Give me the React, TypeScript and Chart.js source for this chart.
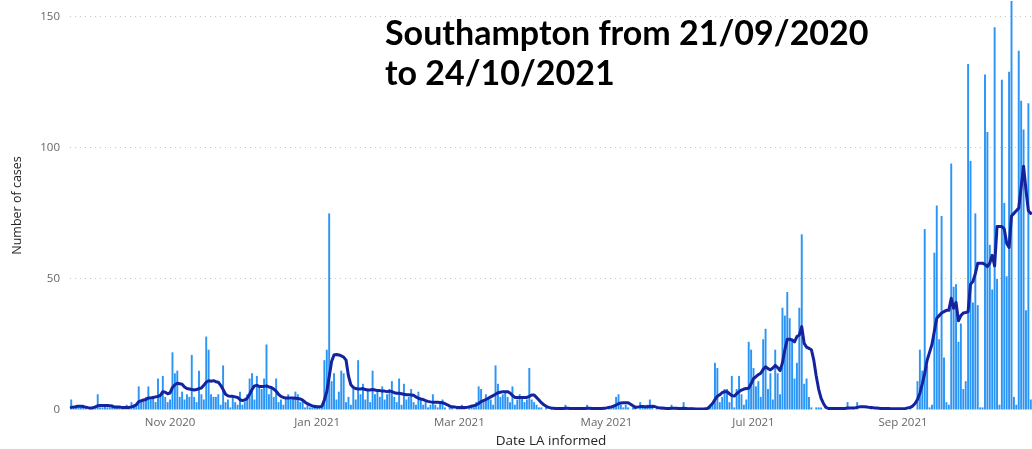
import React, { useEffect, useRef } from "react";
import { Chart, registerables } from "chart.js";

Chart.register(...registerables);

// Daily cases, 21/09/2020 .. 24/10/2021
const cases: number[] = [
  4, 1, 1, 1, 1, 2, 1, 0, 1, 1,
  1, 6, 1, 1, 2, 1, 1, 2, 1, 1,
  1, 1, 1, 2, 1, 3, 2, 2, 9, 4,
  4, 5, 9, 4, 5, 3, 12, 6, 13, 5,
  3, 4, 22, 14, 15, 5, 7, 4, 6, 5,
  21, 5, 3, 15, 6, 4, 28, 23, 6, 5,
  5, 6, 2, 17, 3, 4, 1, 5, 3, 2,
  7, 2, 3, 6, 12, 14, 4, 13, 9, 8,
  12, 25, 6, 8, 5, 12, 3, 4, 2, 5,
  6, 4, 5, 7, 6, 3, 4, 1, 2, 1,
  1, 2, 1, 1, 1, 19, 23, 75, 11, 14,
  4, 7, 15, 14, 3, 5, 2, 8, 4, 19,
  6, 10, 4, 8, 3, 15, 6, 7, 5, 9,
  4, 6, 8, 11, 5, 3, 12, 2, 10, 4,
  5, 8, 3, 2, 7, 4, 2, 3, 1, 2,
  6, 2, 1, 3, 4, 1, 0, 1, 1, 0,
  1, 1, 2, 1, 0, 1, 2, 1, 3, 9,
  8, 3, 6, 5, 4, 2, 17, 10, 5, 6,
  7, 5, 3, 9, 2, 4, 6, 5, 3, 4,
  16, 4, 3, 2, 1, 1, 0, 1, 0, 1,
  0, 1, 0, 0, 1, 2, 0, 1, 0, 0,
  1, 0, 0, 1, 2, 0, 1, 0, 0, 1,
  0, 1, 0, 1, 1, 2, 5, 6, 2, 1,
  2, 1, 0, 1, 1, 0, 3, 1, 1, 2,
  4, 1, 0, 1, 0, 1, 0, 0, 1, 2,
  0, 1, 0, 0, 3, 0, 0, 1, 0, 0,
  0, 0, 0, 1, 0, 1, 2, 18, 16, 3,
  5, 8, 8, 3, 13, 1, 8, 13, 6, 2,
  4, 26, 23, 16, 9, 11, 5, 27, 31, 8,
  14, 4, 23, 14, 6, 39, 36, 45, 35, 27,
  12, 18, 39, 67, 10, 12, 5, 1, 0, 1,
  1, 1, 0, 0, 0, 0, 0, 0, 0, 0,
  0, 0, 3, 0, 0, 0, 3, 0, 0, 0,
  0, 0, 1, 0, 0, 0, 0, 0, 0, 0,
  0, 0, 0, 0, 0, 0, 0, 0, 1, 0,
  0, 11, 23, 15, 69, 17, 1, 2, 60, 78,
  27, 74, 20, 3, 2, 94, 47, 48, 26, 33,
  8, 11, 132, 95, 41, 75, 40, 1, 1, 128,
  106, 63, 46, 146, 50, 2, 126, 79, 51, 129,
  156, 5, 2, 137, 118, 107, 38, 117, 4,
];

// Rolling average line
const rollingAvg: number[] = [
  1, 1.1, 1.3, 1.4, 1.4, 1.3, 1.1, 0.9, 0.8, 0.9,
  1.2, 1.6, 1.7, 1.7, 1.7, 1.7, 1.6, 1.5, 1.1, 1.1,
  1.1, 1.0, 1.0, 1.0, 1.0, 1.2, 1.5, 2.0, 3.2, 3.5,
  3.8, 4.0, 4.6, 4.6, 4.8, 5.0, 5.2, 5.6, 7.0, 6.8,
  6.2, 6.5, 8.6, 9.6, 10.2, 10.0, 9.8, 8.8, 8.2, 8.0,
  7.8, 7.6, 7.8, 8.2, 8.4, 9.4, 10.6, 11.2, 11.0, 11.2,
  10.8, 10.6, 9.4, 7.8, 6.0, 5.4, 5.2, 5.2, 5.0, 4.8,
  4.0, 3.6, 3.8, 4.5, 6.0, 7.8, 9.2, 9.4, 9.0, 9.0,
  9.0, 9.2, 8.8, 8.6, 8.0, 7.2, 6.0, 5.2, 4.8, 4.6,
  4.6, 4.6, 4.6, 4.5, 4.4, 4.2, 3.8, 3.0, 2.4, 2.0,
  1.6, 1.3, 1.2, 1.2, 1.4, 3.8, 7.0, 12.7, 18.5, 21.0,
  21.2, 21.0, 20.6, 20.2, 19.0, 13.0, 9.6, 8.6, 8.2, 8.0,
  8.0, 8.2, 7.8, 7.6, 7.6, 7.8, 7.6, 7.4, 7.4, 7.2,
  7.2, 7.0, 7.2, 7.0, 6.6, 6.4, 6.4, 6.2, 6.0, 5.8,
  5.8, 5.7, 5.6, 5.0, 4.5, 4.2, 4.0, 3.6, 3.3, 3.1,
  3.0, 3.0, 3.0, 2.9, 2.8, 2.4, 2.0, 1.5, 1.2, 1.1,
  1.0, 1.0, 1.0, 1.0, 1.0, 1.2, 1.4, 1.6, 2.0, 2.5,
  3.2, 3.6, 4.0, 4.5, 5.0, 5.5, 6.0, 6.6, 6.8, 7.0,
  7.0, 7.0, 6.5, 5.6, 4.8, 4.8, 4.8, 4.8, 4.8, 4.8,
  5.2, 5.7, 5.7, 4.8, 3.8, 2.8, 2.0, 1.4, 1.0, 0.8,
  0.7, 0.6, 0.6, 0.6, 0.6, 0.7, 0.7, 0.6, 0.6, 0.6,
  0.6, 0.6, 0.6, 0.6, 0.7, 0.7, 0.6, 0.6, 0.6, 0.6,
  0.6, 0.7, 0.8, 1.0, 1.2, 1.5, 1.9, 2.4, 2.7, 2.8,
  2.8, 2.8, 2.2, 1.6, 1.0, 1.1, 1.3, 1.3, 1.2, 1.2,
  1.3, 1.4, 1.3, 1.0, 0.8, 0.8, 0.7, 0.6, 0.6, 0.7,
  0.7, 0.7, 0.6, 0.6, 0.7, 0.6, 0.5, 0.5, 0.5, 0.4,
  0.4, 0.4, 0.4, 0.4, 0.6, 1.5, 2.5, 4.0, 5.2, 5.8,
  6.6, 7.0, 7.0, 6.2, 5.5, 5.3, 6.2, 7.0, 7.6, 8.0,
  8.2, 8.3, 10.0, 12.0, 12.7, 13.5, 14.0, 15.5, 16.5, 15.8,
  15.3, 16.0, 17.0, 16.2, 15.0, 18.0, 23.0, 27.0, 27.0, 26.7,
  26.0, 28.0, 28.6, 31.8, 25.4, 24.0, 23.5, 23.0, 19.0, 13.0,
  8.0, 4.5, 2.5, 1.0, 0.6, 0.6, 0.6, 0.6, 0.6, 0.6,
  0.6, 0.6, 0.8, 0.8, 0.8, 0.8, 1.0, 1.2, 1.2, 1.2,
  1.1, 1.0, 1.0, 0.8, 0.8, 0.7, 0.6, 0.6, 0.6, 0.6,
  0.5, 0.5, 0.5, 0.5, 0.5, 0.5, 0.6, 0.8, 1.0, 1.5,
  2.5, 4.0, 6.4, 10.0, 14.0, 19.0, 22.0, 25.0, 30.0, 35.0,
  36.0, 37.0, 37.5, 38.0, 38.0, 42.6, 38.8, 41.0, 34.0, 36.0,
  37.0, 37.2, 37.5, 48.0, 49.0, 52.0, 56.0, 56.0, 56.0, 55.5,
  54.7, 56.0, 59.0, 55.0, 70.0, 70.0, 70.0, 69.0, 63.6, 62.0,
  74.0, 75.0, 76.0, 77.0, 85.0, 93.0, 84.0, 76.0, 75.0,
];

const startDate = { year: 2020, month: 8, day: 21 }; // 21 Sep 2020
const monthNames = ["Jan", "Feb", "Mar", "Apr", "May", "Jun", "Jul", "Aug", "Sep", "Oct", "Nov", "Dec"];
const tickLabels = ["Nov 2020", "Jan 2021", "Mar 2021", "May 2021", "Jul 2021", "Sep 2021"];
const yTicks = [0, 50, 100, 150];

const categories: string[] = cases.map((_, i) => {
  const d = new Date(Date.UTC(startDate.year, startDate.month, startDate.day + i));
  return `${d.getUTCDate()} ${monthNames[d.getUTCMonth()]} ${d.getUTCFullYear()}`;
});

const UI_FONT = "'Open Sans', 'Noto Sans', sans-serif";

export default function App() {
  const ref = useRef<HTMLCanvasElement | null>(null);

  useEffect(() => {
    if (!ref.current) return;
    const chart = new Chart(ref.current, {
      type: "bar",
      data: {
        labels: categories,
        datasets: [
          {
            type: "line",
            data: rollingAvg,
            borderColor: "#14239E",
            borderWidth: 3,
            pointRadius: 0,
            tension: 0,
            borderJoinStyle: "round",
            borderCapStyle: "round",
            order: 0,
          } as any,
          {
            type: "bar",
            data: cases,
            backgroundColor: "#2B95F6",
            barPercentage: 0.8,
            categoryPercentage: 1,
            order: 1,
          },
        ],
      },
      options: {
        responsive: false,
        animation: false,
        devicePixelRatio: 1,
        layout: { padding: { left: 10, right: 0, top: 1, bottom: 0 } },
        plugins: { legend: { display: false }, tooltip: { enabled: false } },
        scales: {
          x: {
            grid: { display: false, drawTicks: false },
            border: { display: false },
            ticks: {
              autoSkip: false,
              maxRotation: 0,
              padding: 6,
              color: "#666666",
              font: { family: UI_FONT, size: 11.5 },
              callback: (_v: any, i: number) => {
                const parts = categories[i].split(" ");
                if (parts[0] !== "1") return null;
                const lab = `${parts[1]} ${parts[2]}`;
                return tickLabels.includes(lab) ? lab : null;
              },
            },
            title: {
              display: true,
              text: "Date LA informed",
              color: "#252423",
              font: { family: UI_FONT, size: 13.5 },
              padding: { top: 0, bottom: 0 },
            },
            afterFit: (s: any) => {
              s.height = 39;
              s.paddingLeft = 0;
              s.paddingRight = 0;
            },
          },
          y: {
            min: 0,
            max: 156,
            afterBuildTicks: (s: any) => {
              s.ticks = yTicks.map((v) => ({ value: v }));
            },
            grid: {
              drawTicks: false,
              color: (c: any) => (c.tick && c.tick.value === 0 ? "rgba(0,0,0,0)" : "#C8C8C8"),
              lineWidth: 1,
            },
            border: { display: false, dash: [1, 4] },
            ticks: {
              padding: 10,
              color: "#666666",
              font: { family: UI_FONT, size: 11.5 },
            },
            title: {
              display: true,
              text: "Number of cases",
              color: "#252423",
              font: { family: UI_FONT, size: 12.5 },
              padding: { top: 0, bottom: 0 },
            },
            afterFit: (s: any) => {
              s.width = 60;
              s.paddingTop = 0;
              s.paddingBottom = 0;
            },
          },
        },
      },
    });
    return () => chart.destroy();
  }, []);

  return (
    <div style={{ position: "absolute", left: 0, top: 0, width: 1032, height: 449, background: "#fff" }}>
      <canvas ref={ref} width={1032} height={449} style={{ display: "block" }} />
      <div
        style={{
          position: "absolute",
          left: 385,
          top: 12,
          fontFamily: "Lato, 'Open Sans', sans-serif",
          fontWeight: 700,
          fontSize: 34,
          lineHeight: "40px",
          color: "#000",
        }}
      >
        Southampton from 21/09/2020
        <br />
        to 24/10/2021
      </div>
    </div>
  );
}
